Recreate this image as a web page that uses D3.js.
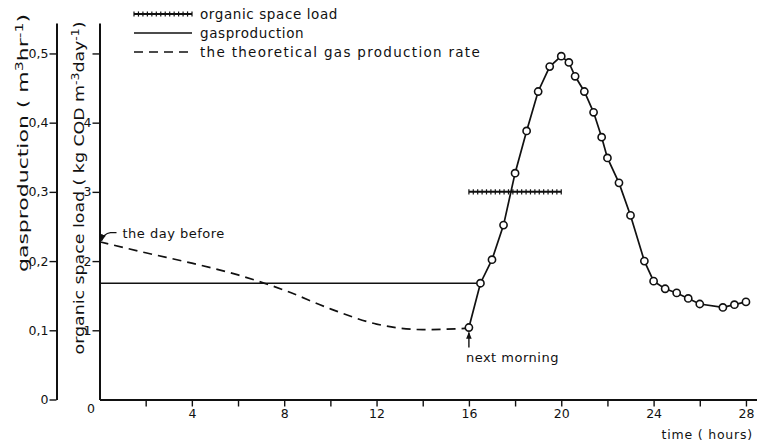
<!DOCTYPE html>
<html><head><meta charset="utf-8">
<script src="https://cdn.jsdelivr.net/npm/d3@7"></script>
<style>
body{margin:0;background:#fff;}
svg{display:block;font-family:"DejaVu Sans",sans-serif;}
.axis text{font-family:"DejaVu Sans",sans-serif;font-size:12.5px;fill:#111;}
.axis path,.axis line{stroke:#111;}
</style></head><body>
<svg id="chart" width="757" height="446"></svg>
<script>
// Measured gas production after feeding (time in hours, m3/hr)
const measuredHours = [16, 16.5, 17, 17.5, 18, 18.5, 19, 19.5, 20, 20.33, 20.6, 21, 21.4, 21.75, 22, 22.5, 23, 23.6, 24, 24.5, 25, 25.5, 26, 27, 27.5, 28];
const measuredGas = [0.104, 0.168, 0.202, 0.252, 0.327, 0.388, 0.445, 0.481, 0.496, 0.487, 0.467, 0.445, 0.415, 0.379, 0.349, 0.313, 0.266, 0.200, 0.171, 0.160, 0.154, 0.146, 0.138, 0.133, 0.137, 0.141];
// Gas production level held through the previous period
const baselineHours = [0, 16.5];
const baselineGas = [0.168, 0.168];
// Theoretical gas production rate, from the day before until the next morning
const theoryHours = [0, 2, 4, 6, 8, 10, 12, 14, 16];
const theoryGas = [0.228, 0.212, 0.197, 0.180, 0.158, 0.131, 0.109, 0.101, 0.103];
// Organic space load during feeding (kg COD m-3 day-1)
const loadHours = [16, 20];
const loadValues = [3, 3];
// Tick values and labels
const xTickValues = [2, 4, 6, 8, 10, 12, 14, 16, 18, 20, 22, 24, 26, 28];
const xLabelValues = [4, 8, 12, 16, 20, 24, 28];
const loadTickValues = [1, 2, 3, 4, 5];
const loadLabelValues = [1, 2, 3, 4];
const gasTickValues = [0, 0.1, 0.2, 0.3, 0.4, 0.5];
const legendLabels = ["organic space load", "gasproduction", "the theoretical gas production rate"];

const svg = d3.select("#chart");
const ink = "#111";

const x = d3.scaleLinear().domain([0, 28.5]).range([99.5, 757.5]);
const yLoad = d3.scaleLinear().domain([0, 5.44]).range([399.5, 23]);
const yGas = d3.scaleLinear().domain([0, 0.544]).range([399.5, 23]);

const gasFmt = d => d === 0 ? "0" : d3.format(".1f")(d).replace(".", ",");

// arrowhead marker
svg.append("defs").append("marker")
  .attr("id", "arrow").attr("viewBox", "0 0 10 10").attr("refX", 9).attr("refY", 5)
  .attr("markerWidth", 7).attr("markerHeight", 7).attr("orient", "auto-start-reverse")
  .attr("markerUnits", "userSpaceOnUse")
  .append("path").attr("d", "M0,1 L10,5 L0,9 z").attr("fill", ink);

// outer axis: gas production
const gAxGas = svg.append("g").attr("class", "axis")
  .attr("transform", "translate(56.5,0)")
  .call(d3.axisLeft(yGas).tickValues(gasTickValues).tickSize(7).tickSizeOuter(0).tickPadding(1).tickFormat(gasFmt));

// inner axis: organic space load
const gAxLoad = svg.append("g").attr("class", "axis")
  .attr("transform", "translate(99.5,0)")
  .call(d3.axisLeft(yLoad).tickValues(loadTickValues).tickSize(7).tickSizeOuter(0).tickPadding(1)
    .tickFormat(d => loadLabelValues.includes(d) ? d : ""));

// time axis
const gAxX = svg.append("g").attr("class", "axis")
  .attr("transform", "translate(0,399.5)")
  .call(d3.axisBottom(x).tickValues(xTickValues).tickSize(7).tickSizeOuter(0).tickPadding(3)
    .tickFormat(d => xLabelValues.includes(d) ? d : ""));

[gAxGas, gAxLoad, gAxX].forEach(g => {
  g.select(".domain").attr("stroke-width", 2);
  g.selectAll(".tick line").attr("stroke-width", 1.4);
});

// shared origin label
svg.append("text").attr("x", 91).attr("y", 413).attr("text-anchor", "middle")
  .attr("font-size", 12.5).attr("fill", ink).text("0");

svg.append("text").attr("x", 753).attr("y", 439).attr("text-anchor", "end")
  .attr("font-size", 12.5).attr("fill", ink).attr("letter-spacing", 0.8).text("time ( hours)");

// axis titles: wide lettering stretched along the axis
function title(cx, cy, len, parts) {
  const t = svg.append("text").attr("transform", `translate(${cx},${cy}) rotate(-90)`)
    .attr("text-anchor", "middle").attr("font-size", 14).attr("fill", ink)
    .attr("textLength", len).attr("lengthAdjust", "spacingAndGlyphs");
  parts.forEach(p => {
    const s = t.append("tspan").text(p[0]);
    if (p[1]) s.attr("baseline-shift", "super").attr("font-size", 10);
  });
}
title(28, 143, 258, [["gasproduction ( m"], ["3", true], ["hr"], ["-1", true], [")"]]);
title(84, 188, 333, [["organic space load ( kg COD m"], ["-3", true], ["day"], ["-1", true], [")"]]);

const line = d3.line().x(d => x(d[0]));

// theoretical rate (dashed)
svg.append("path")
  .datum(d3.zip(theoryHours, theoryGas))
  .attr("d", line.y(d => yGas(d[1])).curve(d3.curveMonotoneX))
  .attr("fill", "none").attr("stroke", ink).attr("stroke-width", 1.7).attr("stroke-dasharray", "9,6");

// baseline gas production
svg.append("path")
  .datum(d3.zip(baselineHours, baselineGas))
  .attr("d", d3.line().x(d => x(d[0])).y(d => yGas(d[1])))
  .attr("fill", "none").attr("stroke", ink).attr("stroke-width", 1.6);

// hatched bar for the organic space load
function hatched(g, x0, x1, y) {
  g.append("line").attr("x1", x0).attr("x2", x1).attr("y1", y).attr("y2", y)
    .attr("stroke", ink).attr("stroke-width", 2);
  g.selectAll(null).data(d3.range(x0, x1 + 0.1, (x1 - x0) / Math.round((x1 - x0) / 4.3)))
    .join("line").attr("x1", d => d).attr("x2", d => d).attr("y1", y - 2.6).attr("y2", y + 2.6)
    .attr("stroke", ink).attr("stroke-width", 1.2);
}
const loadPts = d3.zip(loadHours, loadValues);
hatched(svg.append("g"), x(loadPts[0][0]), x(loadPts[1][0]), yLoad(loadPts[0][1]));

// measured gas production
const measured = d3.zip(measuredHours, measuredGas);
svg.append("path").datum(measured)
  .attr("d", d3.line().x(d => x(d[0])).y(d => yGas(d[1])))
  .attr("fill", "none").attr("stroke", ink).attr("stroke-width", 1.7);
svg.selectAll("circle.m").data(measured).join("circle").attr("class", "m")
  .attr("cx", d => x(d[0])).attr("cy", d => yGas(d[1])).attr("r", 3.6)
  .attr("fill", "#fff").attr("stroke", ink).attr("stroke-width", 1.6);

// annotations
const db = [x(theoryHours[0]), yGas(theoryGas[0])];
svg.append("path")
  .attr("d", `M${db[0] + 17},${db[1] - 9} L${db[0] + 11},${db[1] - 9} Q${db[0] + 4},${db[1] - 8} ${db[0] + 2},${db[1] - 1}`)
  .attr("fill", "none").attr("stroke", ink).attr("stroke-width", 1.3).attr("marker-end", "url(#arrow)");
svg.append("text").attr("x", db[0] + 23).attr("y", db[1] - 4)
  .attr("font-size", 13).attr("fill", ink).attr("letter-spacing", 0.5).text("the day before");

const nm = [x(measuredHours[0]), yGas(measuredGas[0])];
svg.append("line").attr("x1", nm[0]).attr("x2", nm[0]).attr("y1", nm[1] + 20).attr("y2", nm[1] + 5)
  .attr("stroke", ink).attr("stroke-width", 1.4).attr("marker-end", "url(#arrow)");
svg.append("text").attr("x", nm[0] - 3).attr("y", nm[1] + 34)
  .attr("font-size", 13).attr("fill", ink).attr("letter-spacing", 0.5).text("next morning");

// legend
const lg = svg.append("g");
const legendY = [14, 33, 52];
hatched(lg, 134, 192, legendY[0]);
lg.append("line").attr("x1", 134).attr("x2", 192).attr("y1", legendY[1]).attr("y2", legendY[1])
  .attr("stroke", ink).attr("stroke-width", 1.6);
lg.append("line").attr("x1", 134).attr("x2", 192).attr("y1", legendY[2]).attr("y2", legendY[2])
  .attr("stroke", ink).attr("stroke-width", 1.6).attr("stroke-dasharray", "9,6");
lg.selectAll("text").data(legendLabels).join("text")
  .attr("x", 200).attr("y", (d, i) => legendY[i]).attr("dy", "0.35em")
  .attr("font-size", 13.5).attr("fill", ink).attr("letter-spacing", (d, i) => i === 2 ? 1.3 : 0.6).text(d => d);
</script>
</body></html>
